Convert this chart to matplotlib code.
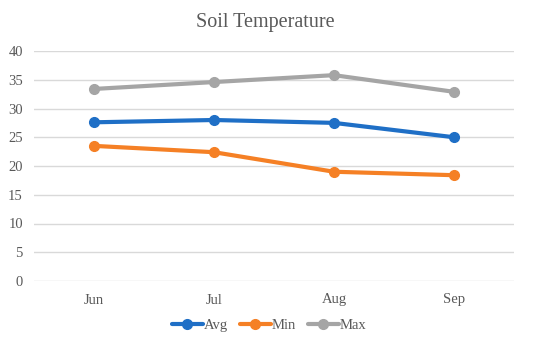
import matplotlib
matplotlib.use("Agg")
import matplotlib.pyplot as plt

months = ["Jun", "Jul", "Aug", "Sep"]
avg = [27.6, 28.0, 27.5, 25.0]
mn = [23.5, 22.4, 19.0, 18.4]
mx = [33.4, 34.6, 35.8, 32.9]
yticks = [0, 5, 10, 15, 20, 25, 30, 35, 40]

plt.rcParams['font.family'] = ['Liberation Serif', 'DejaVu Serif']

fig = plt.figure(figsize=(5.5, 3.44), dpi=100)
ax = fig.add_axes([34/550, 1-281/344, 480/550, 230/344])

x = list(range(len(months)))
series = [("Avg", avg, "#1F6FC6"), ("Min", mn, "#F58025"), ("Max", mx, "#A5A5A5")]
for name, vals, col in series:
    ax.plot(x, vals, color=col, lw=3, marker='o', ms=7, label=name, solid_capstyle='round')

ax.set_xlim(-0.5, 3.5)
ax.set_ylim(0, 40)
ax.set_yticks(yticks)
ax.set_xticks(x)
ax.set_xticklabels(months)
ax.grid(axis='y', color='#D9D9D9', lw=1)
ax.set_axisbelow(True)
for s in ax.spines.values():
    s.set_visible(False)
ax.tick_params(length=0, labelsize=10.5, colors='#595959')
ax.tick_params(axis='x', pad=9)
ax.tick_params(axis='y', pad=8)

fig.text(0.483, 1-23/344, "Soil Temperature", ha='center', va='center', fontsize=14.5, color='#595959')
fig.legend(loc='center', bbox_to_anchor=(0.49, 1-325/344), ncol=3, frameon=False,
           fontsize=10.5, labelcolor='#595959', handlelength=2.1, handletextpad=0.1, columnspacing=0.8)

fig.savefig("out.png", dpi=100)
